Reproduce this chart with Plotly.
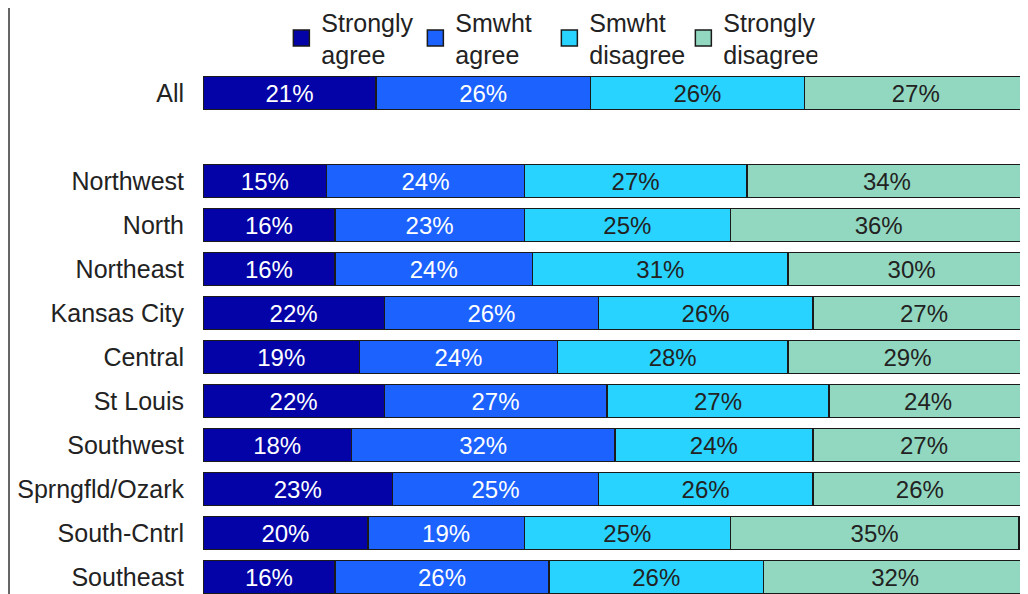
import plotly.graph_objects as go

regions = ["All", "Northwest", "North", "Northeast", "Kansas City", "Central",
           "St Louis", "Southwest", "Sprngfld/Ozark", "South-Cntrl", "Southeast"]
row_pos = [0, 2, 3, 4, 5, 6, 7, 8, 9, 10, 11]

series_names = ["Strongly<br>agree", "Smwht<br>agree", "Smwht<br>disagree", "Strongly<br>disagree"]
strongly_agree = [21, 15, 16, 16, 22, 19, 22, 18, 23, 20, 16]
smwht_agree = [26, 24, 23, 24, 26, 24, 27, 32, 25, 19, 26]
smwht_disagree = [26, 27, 25, 31, 26, 28, 27, 24, 26, 25, 26]
strongly_disagree = [27, 34, 36, 30, 27, 29, 24, 27, 26, 35, 32]

colors = ["#0303A8", "#1C62FF", "#28D3FF", "#92D8C0"]
text_colors = ["white", "white", "#222222", "#222222"]
FONT = "Liberation Sans, Arial, sans-serif"
FS = 25

fig = go.Figure()
for name, vals, col, tc in zip(series_names,
                               [strongly_agree, smwht_agree, smwht_disagree, strongly_disagree],
                               colors, text_colors):
    fig.add_trace(go.Bar(
        y=row_pos, x=vals, orientation="h", name=name, showlegend=False,
        marker=dict(color=col, line=dict(color="#1a1a1a", width=1.5)),
        text=[f"{v}%" for v in vals], textposition="inside", insidetextanchor="middle",
        textfont=dict(family=FONT, size=24, color=tc), width=0.75,
        hoverinfo="skip",
    ))
    # legend proxy with larger square symbol
    fig.add_trace(go.Scatter(
        x=[None], y=[None], mode="markers", name=name, showlegend=True,
        marker=dict(symbol="square", size=22, color=col, line=dict(color="#1a1a1a", width=1.5)),
    ))

# page body has an 8px margin, so the figure is 1020x586 placed at (8, 8)
fig.update_layout(
    width=1020, height=586,
    margin=dict(l=195, r=1, t=0, b=0, pad=0, autoexpand=False),
    barmode="stack",
    plot_bgcolor="white", paper_bgcolor="white",
    font=dict(family=FONT, size=FS, color="#222222"),
    legend=dict(orientation="h", x=0.0951, xanchor="left", xref="paper",
                y=1.0 + 9/586, yanchor="top", yref="paper", traceorder="normal",
                font=dict(family=FONT, size=FS, color="#222222"),
                entrywidth=89, entrywidthmode="pixels", itemsizing="trace",
                tracegroupgap=0, bgcolor="rgba(0,0,0,0)"),
    xaxis=dict(range=[0, 100], visible=False, fixedrange=True),
    yaxis=dict(range=[11.386, -1.932], tickvals=row_pos, ticktext=regions,
               showgrid=False, zeroline=False, showline=False, ticks="",
               automargin=False, ticklabelstandoff=18,
               tickfont=dict(family=FONT, size=FS, color="#222222")),
    shapes=[dict(type="line", xref="paper", yref="paper", x0=-194/824, x1=-194/824,
                 y0=0, y1=1.05, line=dict(color="#333333", width=1.5))],
)

fig.write_html("out.html")
